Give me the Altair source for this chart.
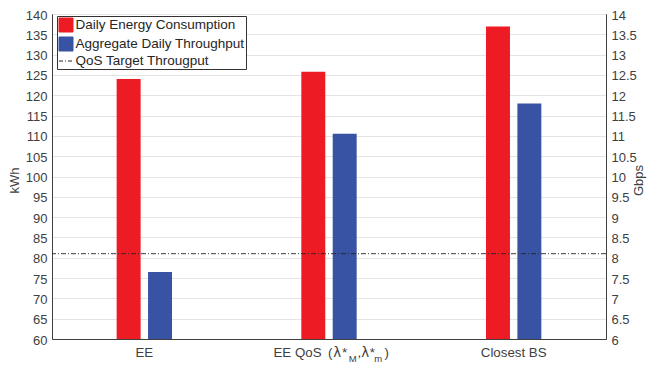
import altair as alt
import pandas as pd

# ---- data ----
categories = ["EE", "EE QoS (λ*M,λ*m)", "Closest BS"]
energy_kwh = [124.0, 125.8, 136.9]
throughput_gbps = [7.65, 11.05, 11.8]
qos_target_gbps = [8.1]
series_names = ["Daily Energy Consumption", "Aggregate Daily Throughput", "QoS Target Througput"]
kwh_ticks = [60, 65, 70, 75, 80, 85, 90, 95, 100, 105, 110, 115, 120, 125, 130, 135, 140]
gbps_ticks = [6, 6.5, 7, 7.5, 8, 8.5, 9, 9.5, 10, 10.5, 11, 11.5, 12, 12.5, 13, 13.5, 14]
# pieces of the middle category label (text, font, font size, subscript?)
label_pieces = [("EE QoS", "Liberation Sans", 13.3, False), ("(", "Liberation Sans", 13.3, False),
                ("λ", "DejaVu Sans", 13.3, False), ("*", "Liberation Sans", 13.3, False),
                ("M", "Liberation Sans", 9.5, True), (",", "Liberation Sans", 13.3, False),
                ("λ", "DejaVu Sans", 13.3, False), ("*", "Liberation Sans", 13.3, False),
                ("m", "Liberation Sans", 9.5, True), (")", "Liberation Sans", 13.3, False)]
piece_dx = [-55.5, -1.0, 4.3, 13.0, 19.8, 28.5, 32.3, 40.8, 45.3, 55.5]

RED = "#ED1C24"
BLUE = "#3953A4"
DARK = "#262626"
GRAY = "#404040"
FONT = "Liberation Sans"
W, H = 554, 325

rows = []
for c, e, t in zip(categories, energy_kwh, throughput_gbps):
    rows.append({"category": c, "series": series_names[0], "value": e})
    rows.append({"category": c, "series": series_names[1], "value": t})
df = pd.DataFrame(rows)
qos_df = pd.DataFrame({"value": qos_target_gbps})
legend_df = pd.DataFrame({"series": series_names})
mid_df = pd.DataFrame({"category": [categories[1]]})

x_axis = alt.Axis(title=None, labelAngle=0, ticks=False, grid=False, labelPadding=6.5,
                  labelFontSize=13.3, labelColor=GRAY, labelFont=FONT,
                  labelExpr="indexof(datum.label, 'QoS') >= 0 ? '' : datum.label")
X = alt.X("category:N", sort=categories, scale=alt.Scale(paddingInner=0, paddingOuter=0), axis=x_axis)
# empty slots either side of the pair of bars set the gap between groups
offset_domain = ["_g1", "_g2", series_names[0], series_names[1], "_g3", "_g4"]
XO = alt.XOffset("series:N", scale=alt.Scale(domain=offset_domain, paddingInner=0.236, paddingOuter=0.06))

left_scale = alt.Scale(domain=[60, 140], nice=False, zero=False)
right_scale = alt.Scale(domain=[6, 14], nice=False, zero=False)

left_axis = alt.Axis(title="kWh", orient="left", values=kwh_ticks, format="d", grid=True,
                     gridColor="#e4e4e4", ticks=False, labelPadding=5, labelFontSize=13, labelOffset=1,
                     titleX=-38, titleY=166, titleAngle=270, titleBaseline="middle", titleAlign="center")
right_axis = alt.Axis(title="Gbps", orient="right", values=gbps_ticks, format="~g", grid=False,
                      ticks=False, labelPadding=5, labelFontSize=13, labelOffset=1,
                      titleX=32, titleY=166, titleAngle=270, titleBaseline="middle", titleAlign="center")

red = alt.Chart(df).transform_filter(alt.datum.series == series_names[0]).mark_bar(color=RED).encode(
    x=X, xOffset=XO,
    y=alt.Y("value:Q", scale=left_scale, axis=left_axis),
    y2=alt.Y2Datum(60),
)

blue = alt.Chart(df).transform_filter(alt.datum.series == series_names[1]).mark_bar(color=BLUE).encode(
    x=X, xOffset=XO,
    y=alt.Y("value:Q", scale=right_scale, axis=right_axis),
    y2=alt.Y2Datum(6),
)

rule = alt.Chart(qos_df).mark_rule(color=DARK, strokeWidth=0.9, strokeDash=[5, 2, 1, 2]).encode(
    y=alt.Y("value:Q", scale=right_scale, axis=right_axis)
)

leg = alt.Legend(title=None, orient="none", legendX=5, legendY=2, symbolSize=196, symbolStrokeWidth=1,
                 labelFontSize=13.5, labelFont=FONT, labelColor=DARK, strokeColor="#333333",
                 fillColor="white", padding=1.5, rowPadding=0, labelOffset=2, labelLimit=400)
pts = alt.Chart(legend_df).transform_filter("false").mark_point(filled=True, opacity=1).encode(
    color=alt.Color("series:N", scale=alt.Scale(domain=series_names, range=[RED, BLUE, DARK]), legend=leg),
    stroke=alt.Stroke("series:N", scale=alt.Scale(domain=series_names, range=[RED, BLUE, DARK]), legend=leg),
    shape=alt.Shape("series:N", scale=alt.Scale(domain=series_names, range=["square", "square", "stroke"]), legend=leg),
    strokeDash=alt.StrokeDash("series:N", scale=alt.Scale(domain=series_names, range=[[1, 0], [1, 0], [4, 2, 1, 2]]), legend=leg),
)

def piece(txt, font, size, sub, dx):
    return alt.Chart(mid_df).mark_text(text=txt, align="left", baseline="alphabetic", dx=dx,
                                       dy=5.6 if sub else 0, fontSize=size, font=font, color=GRAY).encode(
        x=X, y=alt.value(H + 17.7))

pieces = [piece(t, f, s, sub, dx) for (t, f, s, sub), dx in zip(label_pieces, piece_dx)]

chart = alt.layer(red, alt.layer(blue, rule, pts), *pieces).resolve_scale(y="independent").properties(
    width=W, height=H,
    padding={"left": 44, "top": 6, "right": 41, "bottom": 28},
    autosize=alt.AutoSizeParams(type="none"),
).configure_view(stroke=GRAY, strokeWidth=1).configure_axis(
    domainColor=GRAY, labelColor=GRAY, titleColor=GRAY, labelFont=FONT, titleFont=FONT,
    titleFontWeight="normal", titleFontSize=13,
)

chart.save("out.html", embed_options={"renderer": "svg", "actions": False})
